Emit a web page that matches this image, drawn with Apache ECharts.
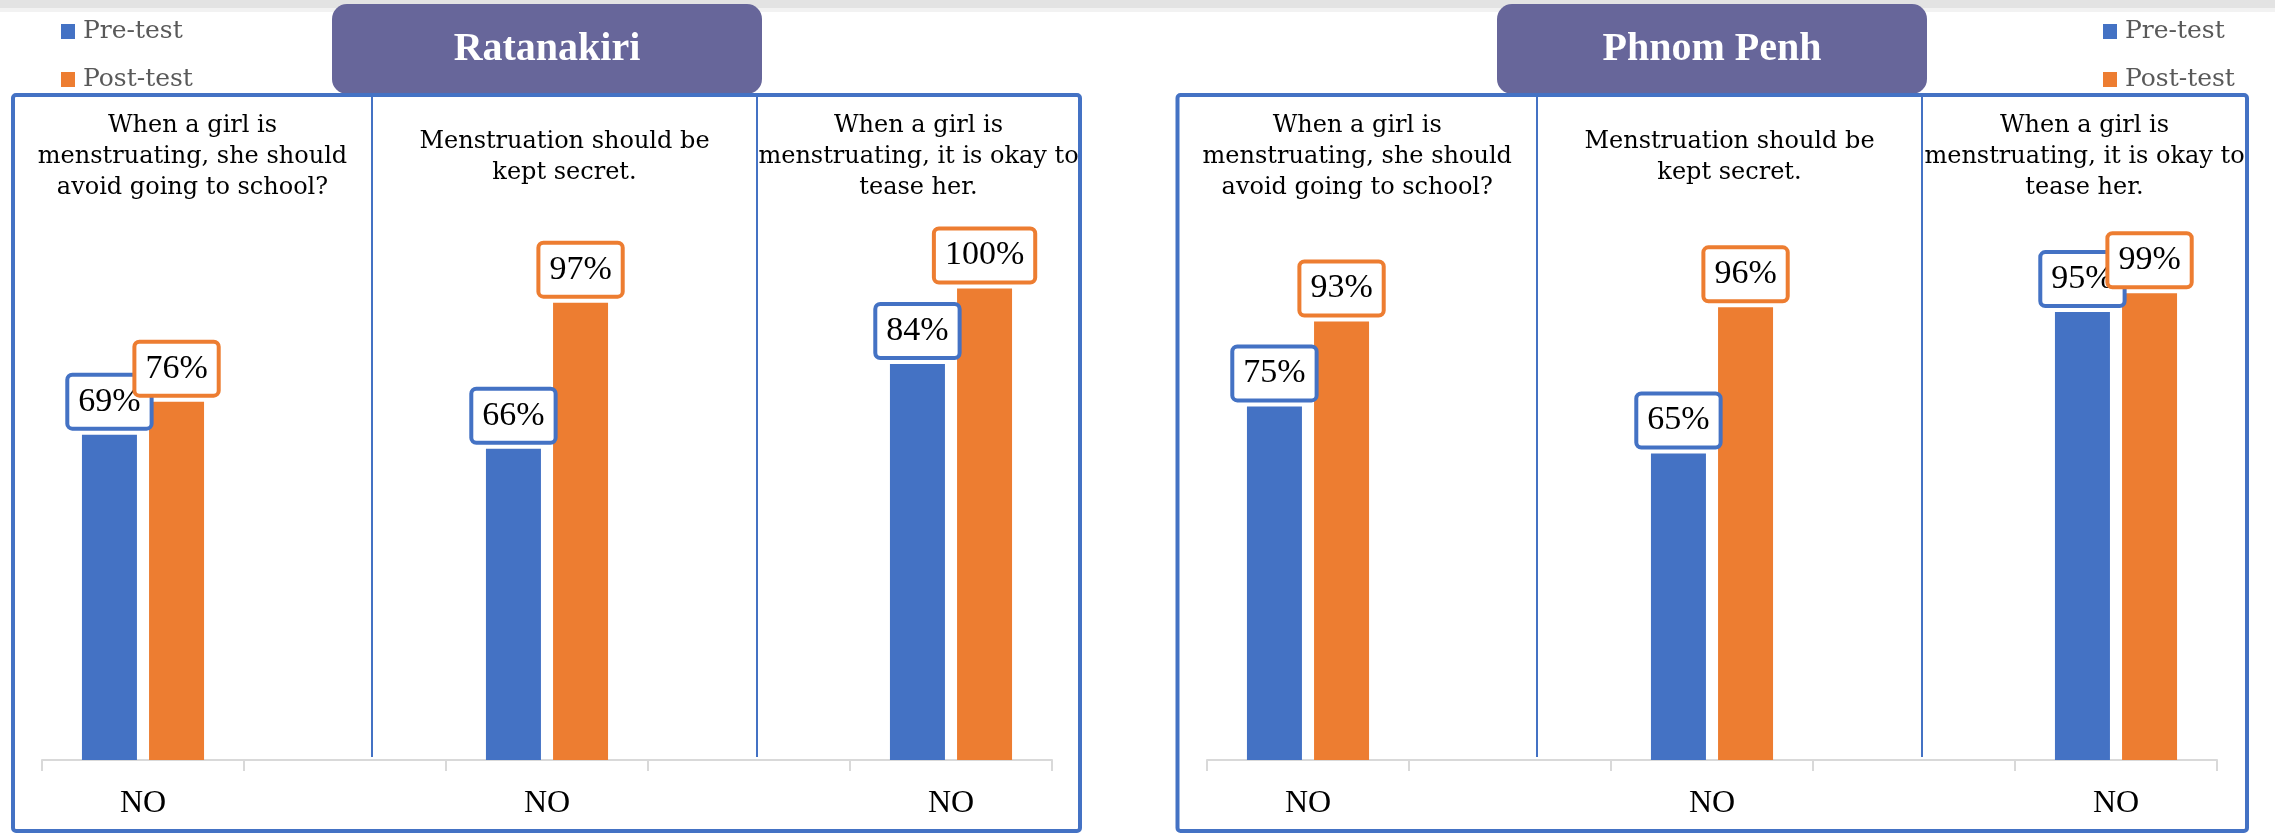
<!DOCTYPE html>
<html>
<head>
<meta charset="utf-8">
<title>Menstruation attitudes: Ratanakiri and Phnom Penh</title>
<script src="https://cdn.jsdelivr.net/npm/echarts@6/dist/echarts.min.js"></script>
<style>
  html, body { margin: 0; padding: 0; background: #fff; }
  #chart { width: 2275px; height: 834px; }
</style>
</head>
<body>
<div id="chart"></div>
<script>
// Category slots along each x axis; the empty slots leave space between the question columns.
const categories = ['NO', '', 'NO', '', 'NO'];
const questionSlots = [0, 2, 4];
const questions = [
  'When a girl is\nmenstruating, she should\navoid going to school?',
  'Menstruation should be\nkept secret.',
  'When a girl is\nmenstruating, it is okay to\ntease her.'
];
const regions = ['Ratanakiri', 'Phnom Penh'];
const seriesNames = ['Pre-test', 'Post-test'];

// Share of respondents answering "NO" (%), one value per question.
const ratanakiriPre = [69, 66, 84];
const ratanakiriPost = [76, 97, 100];
const phnomPenhPre = [75, 65, 95];
const phnomPenhPost = [93, 96, 99];

const BLUE = '#4472C4';
const ORANGE = '#ED7D31';
const SERIF = '"Liberation Serif", "Times New Roman", serif';
const SERIF_WIDE = '"DejaVu Serif", serif';

function onSlots(values) {
  const out = categories.map(() => '-');
  questionSlots.forEach((slot, i) => { out[slot] = values[i]; });
  return out;
}

// Panel geometry (two framed panels side by side)
const panels = [
  { left: 13, right: 1080, dividers: [372, 757], gridLeft: 42, gridRight: 1052,
    titleX: 332, titleW: 430, legendLeft: 56 },
  { left: 1177.5, right: 2247, dividers: [1537, 1922], gridLeft: 1207, gridRight: 2217,
    titleX: 1497, titleW: 430, legendLeft: 2098 }
];
const PANEL_TOP = 95, PANEL_BOTTOM = 831;
const AXIS_Y = 760, VALUE_SPAN = 471.5;

const grids = panels.map(p => ({
  left: p.gridLeft, width: p.gridRight - p.gridLeft,
  top: AXIS_Y - VALUE_SPAN, height: VALUE_SPAN
}));

const xAxes = panels.map((p, i) => ({
  type: 'category', gridIndex: i, data: categories, boundaryGap: true,
  axisLine: { show: true, lineStyle: { color: '#D9D9D9', width: 2 } },
  axisTick: { show: true, interval: 0, length: 11, lineStyle: { color: '#D9D9D9', width: 2 } },
  axisLabel: { interval: 0, margin: 28, color: '#000', fontFamily: SERIF, fontSize: 32, lineHeight: 32 },
  splitLine: { show: false }
}));

const yAxes = panels.map((p, i) => ({
  type: 'value', gridIndex: i, min: 0, max: 100, show: false, splitLine: { show: false }
}));

function barSeries(name, values, color, idx) {
  return {
    name, type: 'bar', xAxisIndex: idx, yAxisIndex: idx,
    data: onSlots(values), barWidth: 55, barGap: '22%',
    itemStyle: { color },
    label: {
      show: true, position: 'top', distance: 8, formatter: '{c}%',
      color: '#000', fontFamily: SERIF, fontSize: 34, lineHeight: 34,
      backgroundColor: '#fff', borderColor: color, borderWidth: 4, borderRadius: 3,
      padding: [8, 9]
    }
  };
}

const series = [
  barSeries(seriesNames[0], ratanakiriPre, BLUE, 0),
  barSeries(seriesNames[1], ratanakiriPost, ORANGE, 0),
  barSeries(seriesNames[0], phnomPenhPre, BLUE, 1),
  barSeries(seriesNames[1], phnomPenhPost, ORANGE, 1)
];

const legends = panels.map(p => ({
  data: seriesNames, orient: 'vertical', left: p.legendLeft, top: 14,
  icon: 'rect', itemWidth: 14, itemHeight: 15, itemGap: 23,
  textStyle: { fontFamily: SERIF_WIDE, fontSize: 25, lineHeight: 25, color: '#595959', padding: [0, 0, 0, 3] },
  selectedMode: false
}));

// Frames, column dividers, region tabs and question headings
const graphics = [
  { type: 'rect', shape: { x: 0, y: 0, width: 2275, height: 8 }, style: { fill: '#E3E3E3' }, z: 1 },
  { type: 'rect', shape: { x: 0, y: 8, width: 2275, height: 4 }, style: { fill: '#F2F2F2' }, z: 1 }
];
panels.forEach((p, i) => {
  graphics.push({
    type: 'rect', z: 2,
    shape: { x: p.titleX, y: 4, width: p.titleW, height: 90, r: 15 },
    style: { fill: '#67669A' }
  });
  graphics.push({
    type: 'text', z: 3, x: p.titleX + p.titleW / 2, y: 50,
    style: { text: regions[i], fill: '#fff', fontFamily: SERIF, fontWeight: 'bold', fontSize: 40,
             align: 'center', verticalAlign: 'middle' }
  });
  graphics.push({
    type: 'rect', z: 4,
    shape: { x: p.left, y: PANEL_TOP, width: p.right - p.left, height: PANEL_BOTTOM - PANEL_TOP, r: 3 },
    style: { fill: 'none', stroke: BLUE, lineWidth: 4 }
  });
  p.dividers.forEach(dx => {
    graphics.push({
      type: 'line', z: 4,
      shape: { x1: dx, y1: PANEL_TOP, x2: dx, y2: AXIS_Y - 3 },
      style: { stroke: BLUE, lineWidth: 2 }
    });
  });
  const edges = [p.left, p.dividers[0], p.dividers[1], p.right];
  questions.forEach((q, k) => {
    graphics.push({
      type: 'text', z: 3, x: (edges[k] + edges[k + 1]) / 2, y: 157,
      style: { text: q, fill: '#000', fontFamily: SERIF_WIDE, fontSize: 24, lineHeight: 31,
               align: 'center', verticalAlign: 'middle' }
    });
  });
});

const chart = echarts.init(document.getElementById('chart'), null, { renderer: 'canvas' });
chart.setOption({
  animation: false,
  backgroundColor: '#fff',
  grid: grids,
  xAxis: xAxes,
  yAxis: yAxes,
  legend: legends,
  series,
  graphic: graphics
});
</script>
</body>
</html>
